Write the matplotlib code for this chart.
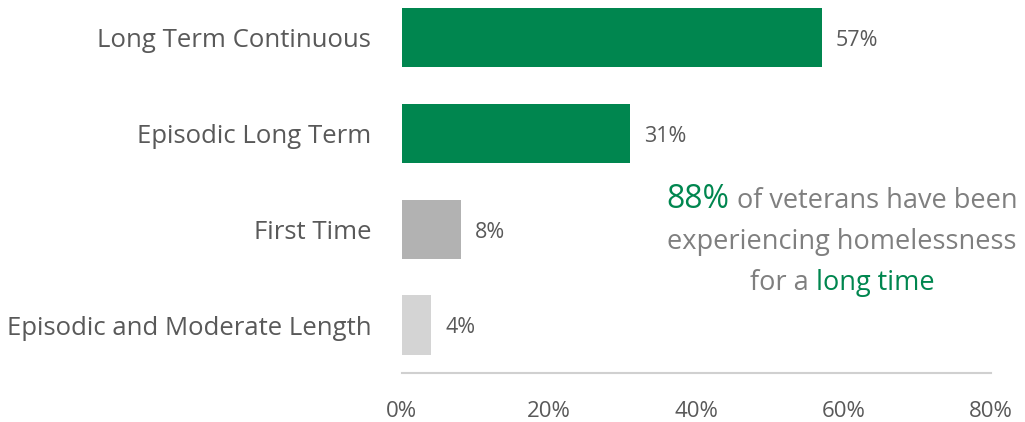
import numpy as np
import matplotlib.pyplot as plt
from matplotlib.offsetbox import TextArea, HPacker, VPacker, AnnotationBbox

plt.rcParams['font.family'] = ['Open Sans', 'DejaVu Sans']

categories = ["Long Term Continuous", "Episodic Long Term", "First Time",
              "Episodic and Moderate Length"]
values = [57, 31, 8, 4]
bar_colors = ["#00864F", "#00864F", "#B2B2B2", "#D4D4D4"]
xticks = [0, 20, 40, 60, 80]

GREEN = "#00864F"
GRAY = "#7F7F7F"
TEXT = "#595959"

fig = plt.figure(figsize=(10.25, 4.22), dpi=100)
ax = fig.add_axes([0.392, 0.116, 0.575, 0.908])

y = np.arange(len(categories))
ax.barh(y, values, height=0.62, color=bar_colors)
ax.set_ylim(len(categories) - 0.5, -0.5)
ax.set_xlim(0, 80)

for yi, v in zip(y, values):
    ax.annotate(f"{v}%", (v, yi), xytext=(10, -2), textcoords="offset points",
                va="center", ha="left", fontsize=15.5, color=TEXT)

ax.set_yticks(y)
ax.set_yticklabels(categories, fontsize=18.5, color=TEXT)
ax.set_xticks(xticks)
ax.set_xticklabels([f"{t}%" for t in xticks], fontsize=16, color=TEXT)
ax.tick_params(axis="both", length=0)
ax.tick_params(axis="y", pad=22)
ax.tick_params(axis="x", pad=20)
for s in ["top", "right", "left"]:
    ax.spines[s].set_visible(False)
ax.spines["bottom"].set_color("#D0D0D0")
ax.spines["bottom"].set_linewidth(1.5)

# annotation with mixed colours
fs = 19.5
line1 = HPacker(children=[TextArea("88%", textprops=dict(color=GREEN, fontsize=23)),
                          TextArea(" of veterans have been", textprops=dict(color=GRAY, fontsize=fs))],
                align="baseline", pad=0, sep=0)
line2 = TextArea("experiencing homelessness", textprops=dict(color=GRAY, fontsize=fs))
line3 = HPacker(children=[TextArea("for a ", textprops=dict(color=GRAY, fontsize=fs)),
                          TextArea("long time", textprops=dict(color=GREEN, fontsize=fs))],
                align="baseline", pad=0, sep=0)
box = VPacker(children=[line1, line2, line3], align="center", pad=0, sep=9)
ab = AnnotationBbox(box, (842, 182), xycoords="figure pixels", frameon=False,
                    box_alignment=(0.5, 0.5))
fig.add_artist(ab)

fig.savefig("out.png", dpi=100)
